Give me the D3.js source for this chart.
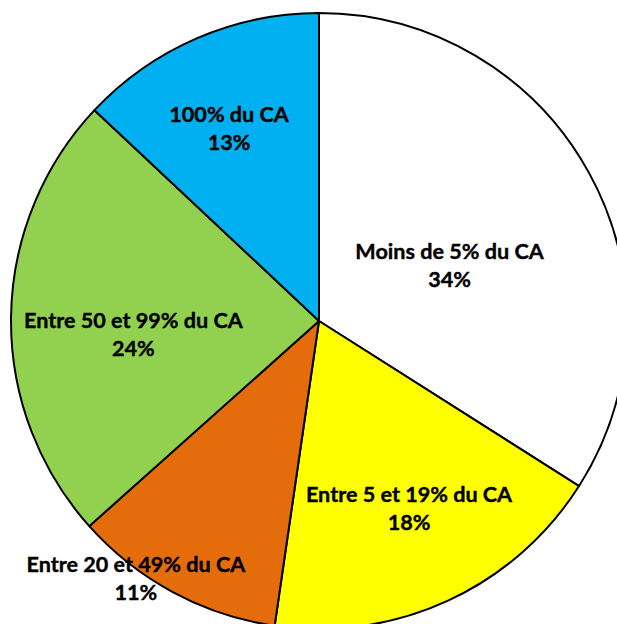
<!DOCTYPE html>
<html>
    <head>
        <meta charset="utf-8">
        <title>Part du CA</title>
        <script src="https://d3js.org/d3.v7.min.js"></script>
        <style>
            body { margin: 0; background: #fff; }
            svg { display: block; }
        </style>
    </head>
    <body>
        <script>

            // data
            const categories = [
                "Moins de 5% du CA",
                "Entre 5 et 19% du CA",
                "Entre 20 et 49% du CA",
                "Entre 50 et 99% du CA",
                "100% du CA"
            ];
            const shares = [34.0, 18.3, 11.1, 23.6, 13.0];
            const colors = ["#FFFFFF", "#FFFF00", "#E46C0A", "#92D050", "#00B0F0"];

            // label placement (angle in degrees clockwise from top, distance as fraction of radius)
            const labelAngle = [66.8, 154.3, 215.5, 266, 335];
            const labelDist = [0.461, 0.674, 1.024, 0.604, 0.691];

            const width = 617, height = 624;
            const cx = 319, cy = 321, radius = 308;

            const svg = d3.select("body")
                .append("svg")
                    .attr("width", width)
                    .attr("height", height);

            const g = svg.append("g")
                .attr("transform", `translate(${cx},${cy})`);

            const pie = d3.pie().sort(null).value(d => d);
            const arc = d3.arc().innerRadius(0).outerRadius(radius);
            const arcs = pie(shares);
            const total = d3.sum(shares);

            // slices
            g.selectAll("path")
                .data(arcs)
                .join("path")
                    .attr("d", arc)
                    .attr("fill", (d, i) => colors[i])
                    .attr("stroke", "#000")
                    .attr("stroke-width", 2)
                    .attr("stroke-linejoin", "round");

            // labels
            const labels = g.selectAll("g.label")
                .data(arcs)
                .join("g")
                    .attr("class", "label")
                    .attr("transform", (d, i) => {
                        const a = labelAngle[i] * Math.PI / 180;
                        const r = labelDist[i] * radius;
                        return `translate(${r * Math.sin(a)},${-r * Math.cos(a)})`;
                    });

            labels.selectAll("text")
                .data((d, i) => [categories[i], Math.round(d.value / total * 100) + "%"])
                .join("text")
                    .attr("text-anchor", "middle")
                    .attr("y", (d, j) => j === 0 ? -6 : 22)
                    .attr("font-family", "Lato, 'Open Sans', sans-serif")
                    .attr("font-weight", "bold")
                    .attr("font-size", 21.6)
                    .attr("fill", "#000")
                    .attr("stroke", "#000")
                    .attr("stroke-width", 0.4)
                    .text(d => d);

        </script>
    </body>
</html>
